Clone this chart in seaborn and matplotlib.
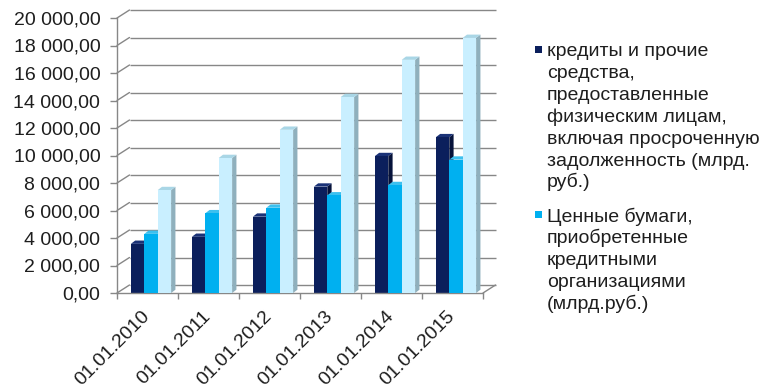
import matplotlib
matplotlib.use("Agg")
import matplotlib.pyplot as plt
import numpy as np
import pandas as pd
import seaborn as sns
from matplotlib.patches import Polygon, Rectangle
from matplotlib.ticker import FuncFormatter, FixedLocator

# --- data (млрд. руб.) ---
dates = ["01.01.2010", "01.01.2011", "01.01.2012", "01.01.2013", "01.01.2014", "01.01.2015"]
loans = [3574, 4085, 5551, 7737, 9957, 11330]
securities = [4300, 5800, 6200, 7100, 7850, 9700]
deposits = [7485, 9818, 11871, 14251, 16958, 18553]

series_names = ["кредиты физическим лицам", "ценные бумаги", "вклады физических лиц"]
legend_labels = [
    ["кредиты и прочие", "средства,", "предоставленные", "физическим лицам,",
     "включая просроченную", "задолженность (млрд.", "руб.)"],
    ["Ценные бумаги,", "приобретенные", "кредитными", "организациями", "(млрд.руб.)"],
]
y_ticks = list(range(0, 20001, 2000))

front_colors = ["#0b1f5c", "#00b0f0", "#c9efff"]
side_colors = ["#06123a", "#0088bb", "#8fb0bd"]
top_colors = ["#1a3277", "#3cc0ef", "#a9d6e6"]
grid_color = "#878787"
text_color = "#1e1e1e"

sns.set_theme(style="white")
plt.rcParams["font.family"] = ["Liberation Sans", "DejaVu Sans"]

W, H = 765, 388
fig = plt.figure(figsize=(W / 100, H / 100), dpi=100)
L, R, T, B = 117, 483, 18, 293
ax = fig.add_axes([L / W, 1 - B / H, (R - L) / W, (B - T) / H])

df = pd.DataFrame({
    "date": dates * 3,
    "value": loans + securities + deposits,
    "series": [n for n in series_names for _ in dates],
})
sns.barplot(data=df, x="date", y="value", hue="series", hue_order=series_names,
            palette=front_colors, saturation=1, width=0.66, linewidth=0,
            errorbar=None, legend=False, ax=ax)

ax.set_xlim(-0.5, 5.5)
ax.set_ylim(0, 20000)
ax.set_xlabel("")
ax.set_ylabel("")
ax.grid(False)
ax.patch.set_alpha(0)

px_x = (R - L) / 6.0            # pixels per category unit
px_y = (B - T) / 20000.0        # pixels per value unit

# 3D depth of the walls and of each column
wall_dx, wall_dy = 12.5 / px_x, 8 / px_y
bar_dx, bar_dy = 4.3 / px_x, 3.3 / px_y
shift = 3.5 / px_x

# columns: front face from seaborn, plus side and top faces
for k, cont in enumerate(ax.containers):
    for bar in cont:
        bar.set_x(bar.get_x() + shift)
        bar.set_zorder(2.5 + k)
        x0 = bar.get_x()
        x1 = x0 + bar.get_width()
        h = bar.get_height()
        side = Polygon([(x1, 0), (x1, h), (x1 + bar_dx, h + bar_dy), (x1 + bar_dx, bar_dy)],
                       closed=True, facecolor=side_colors[k], edgecolor="none",
                       zorder=2 + k, clip_on=False)
        top = Polygon([(x0, h), (x1, h), (x1 + bar_dx, h + bar_dy), (x0 + bar_dx, h + bar_dy)],
                      closed=True, facecolor=top_colors[k], edgecolor="none",
                      zorder=2 + k, clip_on=False)
        ax.add_patch(side)
        ax.add_patch(top)

# back wall gridlines and side-wall diagonals
lw = 1.0
for v in y_ticks:
    ax.plot([-0.5 + wall_dx, 5.5 + wall_dx], [v + wall_dy, v + wall_dy],
            color=grid_color, lw=lw, zorder=1, clip_on=False, solid_capstyle="butt")
    ax.plot([-0.5, -0.5 + wall_dx], [v, v + wall_dy],
            color=grid_color, lw=lw, zorder=1, clip_on=False)
# floor right edge
ax.plot([5.5, 5.5 + wall_dx], [0, wall_dy], color=grid_color, lw=lw, zorder=1, clip_on=False)

for name, sp in ax.spines.items():
    if name in ("left", "bottom"):
        sp.set_visible(True)
        sp.set_color(grid_color)
        sp.set_linewidth(lw)
    else:
        sp.set_visible(False)

# y axis
ax.yaxis.set_major_locator(FixedLocator(y_ticks))
ax.yaxis.set_major_formatter(FuncFormatter(
    lambda v, p: f"{v:,.2f}".replace(",", " ").replace(".", ",")))
ax.tick_params(axis="y", which="major", left=True, length=5, width=lw,
               color=grid_color, pad=7, labelsize=14, labelcolor=text_color)

# x axis: labels at categories, tick marks at boundaries
ax.set_xticks(range(len(dates)))
ax.set_xticklabels(dates, rotation=45, ha="right", va="center", rotation_mode="anchor")
ax.set_xticks(np.arange(-0.5, 6.0, 1.0), minor=True)
ax.tick_params(axis="x", which="major", bottom=True, length=0, pad=15,
               labelsize=14, labelcolor=text_color)
ax.tick_params(axis="x", which="minor", bottom=True, length=4, width=lw, color=grid_color)

# legend
def fx(px):
    return px / W

def fy(py):
    return 1 - py / H

baselines = [[56.5 + 21.8 * i for i in range(7)], [221.5 + 21.8 * i for i in range(5)]]
for k, lines in enumerate(legend_labels):
    by = baselines[k]
    fig.add_artist(Rectangle((fx(535), fy(by[0] - 3.5)), 7 / W, 7 / H,
                             transform=fig.transFigure, facecolor=front_colors[k],
                             edgecolor="none"))
    for line, yb in zip(lines, by):
        fig.text(fx(547), fy(yb), line, fontsize=14, color=text_color,
                 ha="left", va="baseline")

fig.savefig("out.png", dpi=100)
